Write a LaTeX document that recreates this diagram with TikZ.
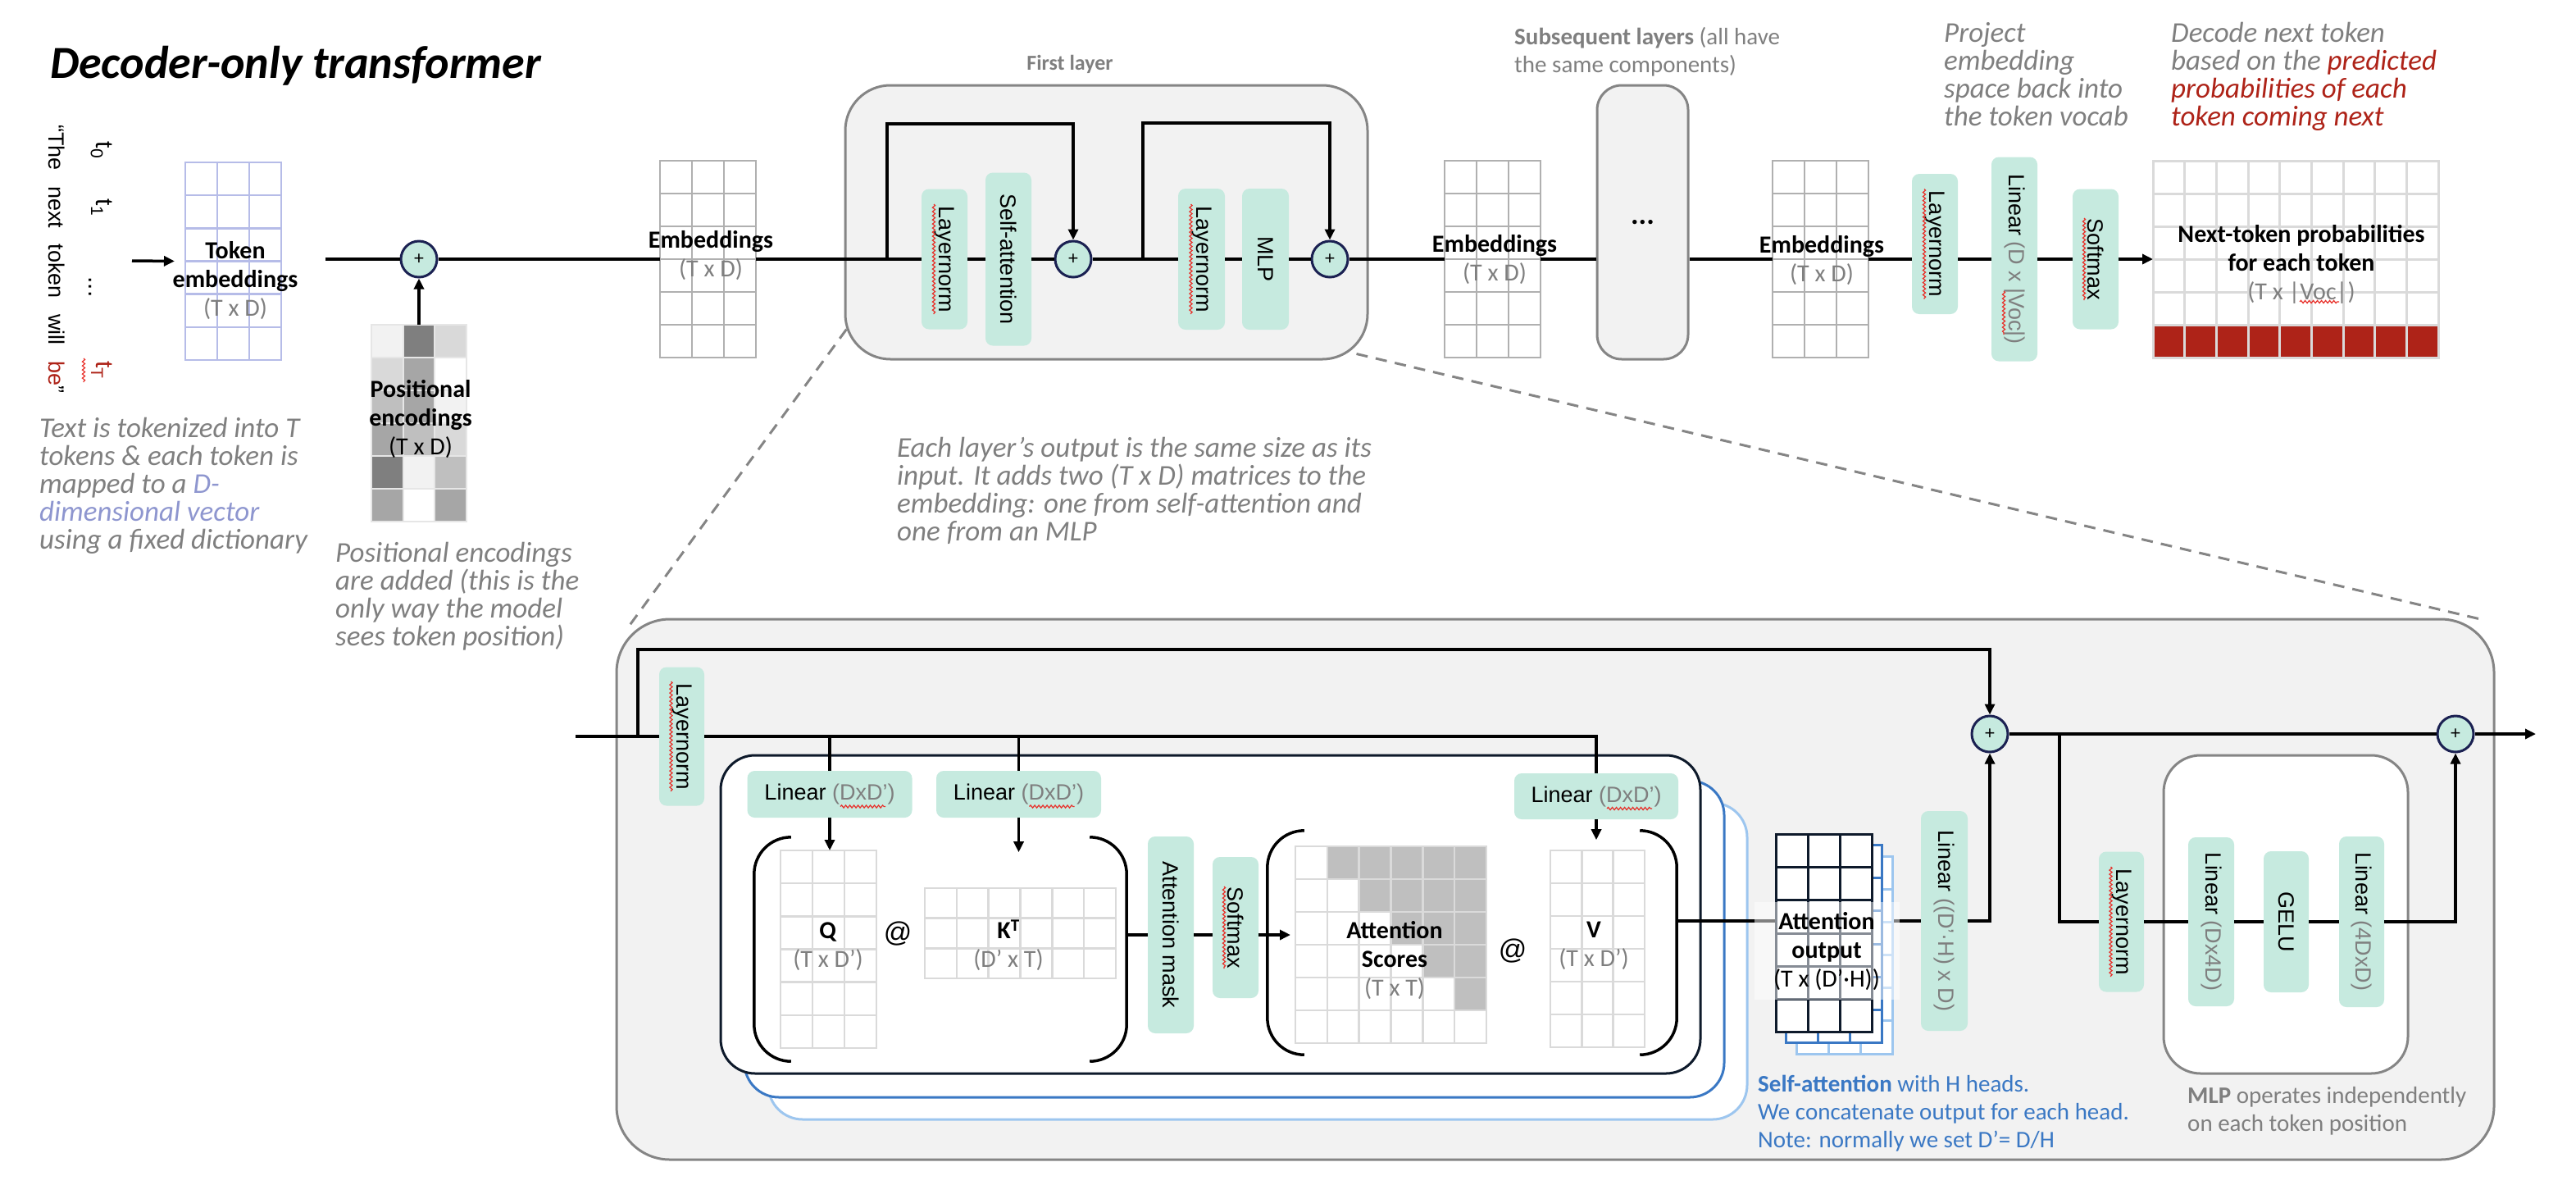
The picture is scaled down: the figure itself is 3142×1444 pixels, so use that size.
\documentclass[tikz,border=0pt]{standalone}
\usepackage{fontspec}
\usepackage{graphicx}
\setmainfont{Carlito}
\newfontfamily\arl{Liberation Sans}
\usetikzlibrary{arrows.meta,calc,decorations.pathmorphing}
\definecolor{mint}{HTML}{C6EADF}
\definecolor{navy}{HTML}{1B2152}
\definecolor{tgray}{HTML}{7F7F7F}
\definecolor{boxgray}{HTML}{858585}
\definecolor{lgbg}{HTML}{F2F2F2}
\definecolor{gridgray}{HTML}{B0B0B0}
\definecolor{lgrid}{HTML}{DADADA}
\definecolor{posline}{HTML}{E6E6E6}
\definecolor{tokblue}{HTML}{B6BCE8}
\definecolor{tred}{HTML}{AE2318}
\definecolor{dvec}{HTML}{8E96CF}
\definecolor{hblue}{HTML}{3A78C4}
\definecolor{hlblue}{HTML}{9DC6EF}
\definecolor{hnavy}{HTML}{0E1A2B}
\definecolor{sqred}{HTML}{E8302A}
\definecolor{gA}{HTML}{F2F2F2}
\definecolor{gB}{HTML}{D9D9D9}
\definecolor{gC}{HTML}{BFBFBF}
\definecolor{gD}{HTML}{A6A6A6}
\definecolor{gE}{HTML}{7F7F7F}
\tikzset{
 conn/.style={line width=3.5pt, draw=black},
 arr/.style={-{Triangle[length=13pt,width=12pt]}},
 gbox/.style={fill=mint, rounded corners=9pt, inner sep=0pt, font=\arl\fontsize{27}{32}\selectfont},
 plus/.style={circle, fill=mint, draw=navy, line width=3pt, minimum size=44pt, inner sep=0pt, font=\arl\fontsize{22}{22}\selectfont},
 gridn/.style={fill=white, inner sep=0pt, outer sep=0pt},
 lbl/.style={align=center, inner sep=0pt, font=\fontsize{30}{35}\selectfont},
 note/.style={align=left, inner sep=0pt, anchor=north west, text=tgray, font=\itshape\fontsize{35}{34}\selectfont},
 plain/.style={align=left, inner sep=0pt, anchor=north west, font=\fontsize{29}{34}\selectfont},
 layerbox/.style={fill=lgbg, draw=boxgray, line width=3pt, rounded corners=55pt},
 hbox/.style={fill=white, line width=3pt, rounded corners=42pt},
 dashline/.style={draw=boxgray, line width=3pt, dash pattern=on 14pt off 10pt},
 squig/.style={draw=sqred, line width=1.2pt, decorate, decoration={snake, amplitude=1.6pt, segment length=5pt}},
 atsign/.style={inner sep=0pt, font=\arl\fontsize{34}{34}\selectfont},
}
\newcommand\gridlines[4]{%
  \pgfmathtruncatemacro\gcm{#2-1}%
  \pgfmathtruncatemacro\grm{#3-1}%
  \foreach \i in {1,...,\gcm}{\draw[#4] ($(#1.north west)!{\i/#2}!(#1.north east)$) -- ($(#1.south west)!{\i/#2}!(#1.south east)$);}%
  \foreach \j in {1,...,\grm}{\draw[#4] ($(#1.north west)!{\j/#3}!(#1.south west)$) -- ($(#1.north east)!{\j/#3}!(#1.south east)$);}%
  \draw[#4] (#1.north west) rectangle (#1.south east);%
}
\newcommand\vsq[3]{\draw[squig] ($(#1.center)+(#2,{-#3})$) -- ($(#1.center)+(#2,#3)$);}
\begin{document}
\begin{tikzpicture}[x=1pt,y=-1pt]
\useasboundingbox (0,0) rectangle (3142,1444);

% ---------- background boxes ----------
\node[layerbox, minimum width=637, minimum height=334] (L1) at (1349.5,271) {};
\node[layerbox, rounded corners=30pt, minimum width=111, minimum height=334, font=\bfseries\fontsize{36}{36}\selectfont] (dots) at (2003.5,271) {...};
\node[layerbox, rounded corners=65pt, minimum width=2290, minimum height=659] (BL) at (1897,1084.5) {};
\draw[dashline] ($(L1.south west)+(3,-38)$) -- ($(BL.north west)+(13,15)$);
\draw[dashline] ($(L1.south east)+(-15,-8)$) -- ($(BL.north east)+(-16,2)$);
\node[hbox, draw=hlblue, minimum width=1194, minimum height=386] (hb3) at (1534,1172) {};
\node[hbox, draw=hblue, minimum width=1195, minimum height=386] (hb2) at (1505.5,1145) {};
\node[hbox, draw=hnavy, minimum width=1195, minimum height=388] (hb1) at (1476.5,1115) {};
\node[hbox, draw=boxgray, rounded corners=45pt, minimum width=298, minimum height=388] (mlpbox) at (2788,1115) {};

% ---------- top grids ----------
\node[gridn, minimum width=117, minimum height=241] (tok) at (284.5,318.5) {};
\gridlines{tok}{3}{6}{draw=tokblue, line width=2.5pt}
\node[gridn, minimum width=116, minimum height=240] (pos) at (511,516) {};
\foreach \c/\r/\col in {0/0/gA,1/0/gE,2/0/gB, 0/1/gB,1/1/gD,2/1/white, 0/2/gC,1/2/gD,2/2/gA, 0/3/gD,1/3/gC,2/3/gB, 0/4/gE,1/4/gA,2/4/gC, 0/5/gD,1/5/white,2/5/gD}
  {\fill[\col] ({453+\c*38.667},{396+\r*40}) rectangle ++(38.667,40);}
\gridlines{pos}{3}{6}{draw=posline, line width=2pt}
\node[gridn, minimum width=117, minimum height=240] (emb1) at (863.5,316) {};
\gridlines{emb1}{3}{6}{draw=gridgray, line width=2.5pt}
\node[gridn, minimum width=117, minimum height=240] (emb2) at (1820.5,316) {};
\gridlines{emb2}{3}{6}{draw=gridgray, line width=2.5pt}
\node[gridn, minimum width=117, minimum height=240] (emb3) at (2220.5,316) {};
\gridlines{emb3}{3}{6}{draw=gridgray, line width=2.5pt}
\node[gridn, minimum width=348, minimum height=240] (prob) at (2800,316) {};
\fill[tred] (2626,396) rectangle (2974,436);
\gridlines{prob}{9}{6}{draw=lgrid, line width=3pt}

% ---------- lower grids ----------
\node[gridn, minimum width=117, minimum height=241] (Qg) at (1010.5,1157.5) {};
\gridlines{Qg}{3}{6}{draw=lgrid, line width=2.5pt}
\node[gridn, minimum width=233, minimum height=110] (Kg) at (1244.5,1138) {};
\gridlines{Kg}{6}{3}{draw=lgrid, line width=2.5pt}
\node[gridn, minimum width=233, minimum height=240] (Ag) at (1696.5,1152) {};
\foreach \r in {0,...,4}{\pgfmathtruncatemacro\cs{\r+1}\foreach \c in {\cs,...,5}{\fill[gC] ({1580+\c*38.83},{1032+\r*40}) rectangle ++(38.83,40);}}
\gridlines{Ag}{6}{6}{draw=lgrid, line width=2.5pt}
\node[gridn, minimum width=115, minimum height=240] (Vg) at (1948.5,1157) {};
\gridlines{Vg}{3}{6}{draw=lgrid, line width=2.5pt}

% ---------- green boxes ----------
\node[gbox, minimum width=56, minimum height=171] (lnA) at (1152,316) {\rotatebox{-90}{Layernorm}};
\node[gbox, minimum width=56, minimum height=211] (saA) at (1230,316) {\rotatebox{-90}{Self-attention}};
\node[gbox, minimum width=57, minimum height=172] (lnB) at (1465.5,316) {\rotatebox{-90}{Layernorm}};
\node[gbox, minimum width=57, minimum height=172] (mlpA) at (1543.5,316) {\rotatebox{-90}{MLP}};
\node[gbox, minimum width=56, minimum height=171] (lnC) at (2360,297.5) {\rotatebox{-90}{Layernorm}};
\node[gbox, minimum width=56, minimum height=249] (linC) at (2457,316) {\rotatebox{-90}{Linear \textcolor{tgray}{(D x |Voc|)}}};
\node[gbox, minimum width=56, minimum height=171] (smC) at (2556,316) {\rotatebox{-90}{Softmax}};

\node[gbox, minimum width=55, minimum height=169] (lnD) at (831.5,898) {\rotatebox{-90}{Layernorm}};
\node[gbox, minimum width=201, minimum height=57] (linQ) at (1012,968.5) {Linear \textcolor{tgray}{(DxD’)}};
\node[gbox, minimum width=201, minimum height=57] (linK) at (1242.5,968.5) {Linear \textcolor{tgray}{(DxD’)}};
\node[gbox, minimum width=200, minimum height=56] (linV) at (1947,971) {Linear \textcolor{tgray}{(DxD’)}};
\node[gbox, minimum width=56, minimum height=240] (amask) at (1428,1140) {\rotatebox{-90}{Attention mask}};
\node[gbox, minimum width=56, minimum height=172] (smD) at (1507,1131) {\rotatebox{-90}{Softmax}};
\node[gbox, minimum width=57, minimum height=268] (linE) at (2371.5,1123) {\rotatebox{-90}{Linear \textcolor{tgray}{((D’·H) x D)}}};
\node[gbox, minimum width=55, minimum height=171] (lnE) at (2587.5,1124) {\rotatebox{-90}{Layernorm}};
\node[gbox, minimum width=56, minimum height=206] (lin1) at (2697,1124) {\rotatebox{-90}{Linear \textcolor{tgray}{(Dx4D)}}};
\node[gbox, minimum width=55, minimum height=172] (gelu) at (2788.5,1124) {\rotatebox{-90}{GELU}};
\node[gbox, minimum width=55, minimum height=208] (lin2) at (2880.5,1124) {\rotatebox{-90}{Linear \textcolor{tgray}{(4DxD)}}};

% ---------- plus nodes ----------
\node[plus] (plus0) at (511,316) {+};
\node[plus] (plusA) at (1309,316) {+};
\node[plus] (plusB) at (1622,316) {+};
\node[plus] (plusC) at (2427,895) {+};
\node[plus] (plusD) at (2995,895) {+};

% ---------- top connectors ----------
\coordinate (tin) at (161,318);
\draw[conn,arr] (tin) -- ($(tok.west)+(-13,0)$);
\coordinate (m0) at (397,316);
\draw[conn] (m0) -- (plus0);
\draw[conn,arr] (pos.north) -- (plus0.south);
\draw[conn] (plus0) -- (emb1);
\draw[conn] (emb1) -- (lnA);
\draw[conn] (lnA) -- (saA);
\draw[conn] (saA) -- (plusA);
\draw[conn] (plusA) -- (lnB);
\draw[conn] (lnB) -- (mlpA);
\draw[conn] (mlpA) -- (plusB);
\draw[conn] (plusB) -- (emb2);
\draw[conn] (emb2.east) -- (emb2.east -| dots.west);
\draw[conn] (dots.east |- emb3.west) -- (emb3.west);
\draw[conn] (emb3.east) -- (emb3.east -| lnC.west);
\draw[conn] (lnC.east |- linC.west) -- (linC.west);
\draw[conn] (linC) -- (smC);
\draw[conn,arr] (smC) -- (prob);
\coordinate (sk1) at (1082,316);
\draw[conn,arr] (sk1) -- ++(0,-165) -| (plusA.north);
\coordinate (sk2) at (1394,316);
\draw[conn,arr] (sk2) -- ++(0,-166) -| (plusB.north);

% ---------- lower connectors ----------
\coordinate (bin) at (702,898);
\draw[conn] (bin) -- (lnD);
\coordinate (sk3) at (778,898);
\draw[conn,arr] (sk3) -- ++(0,-106) -| (plusC.north);
\draw[conn] (lnD.east) -- (lnD.east -| linV.north) -- (linV.north);
\draw[conn] (lnD.east -| linQ.north) -- (linQ.north);
\draw[conn] (lnD.east -| linK.north) -- (linK.north);
\draw[conn,arr] (linQ.south) -- (linQ.south |- Qg.north);
\draw[conn,arr] (linK.south) -- ++(0,42);
\draw[conn,arr] (linV.south) -- ++(0,25);

% brackets
\node[inner sep=0pt, minimum width=454, minimum height=273] (grp1) at (1147,1157.5) {};
\node[inner sep=0pt, minimum width=499, minimum height=273] (grp2) at (1795.5,1149.5) {};
\foreach \g in {grp1,grp2}{
  \draw[line width=3.5pt, rounded corners=45pt] ($(\g.north west)+(45,0)$) -- (\g.north west) -- (\g.south west) -- ($(\g.south west)+(45,0)$);
  \draw[line width=3.5pt, rounded corners=45pt] ($(\g.north east)+(-45,0)$) -- (\g.north east) -- (\g.south east) -- ($(\g.south east)+(-45,0)$);
}
\draw[conn] (grp1.east |- amask.west) -- (amask.west);
\draw[conn] (amask.east) -- (amask.east -| smD.west);
\draw[conn,arr] (smD.east |- amask.east) -- ($(Ag.west |- amask.east)+(-6,0)$);
\node[atsign] (at1) at (1095,1139) {@};
\node[atsign] (at2) at (1845,1160) {@};

% attention output stack
\draw[conn] (grp2.east |- linE.west) -- (linE.west);
\node[gridn, minimum width=117, minimum height=241] (ao3) at (2249.5,1164.5) {};
\gridlines{ao3}{3}{6}{draw=hlblue, line width=3pt}
\node[gridn, minimum width=117, minimum height=241] (ao2) at (2237,1151) {};
\gridlines{ao2}{3}{6}{draw=hblue, line width=3pt}
\node[gridn, minimum width=117, minimum height=241] (ao1) at (2224.5,1138) {};
\gridlines{ao1}{3}{6}{draw=hnavy, line width=3pt}
\node[fill=white, fill opacity=0.5, inner sep=0pt, minimum width=177, minimum height=119] (band) at (2228.5,1159.5) {};

\draw[conn,arr] (linE.east) -| (plusC.south);
\draw[conn] (plusC) -- (plusD);
\coordinate (br) at (2512,895);
\draw[conn] (br) |- (lnE.west);
\draw[conn] (lnE) -- (lin1);
\draw[conn] (lin1) -- (gelu);
\draw[conn] (gelu) -- (lin2);
\draw[conn,arr] (lin2.east) -| (plusD.south);
\coordinate (bout) at (3093,895);
\draw[conn,arr] (plusD) -- (bout);

% ---------- grid labels ----------
\node[lbl] (tokl) at (287,342) {\textbf{Token}\\\textbf{embeddings}\\\textcolor{tgray}{(T x D)}};
\node[lbl] (posl) at (513,511) {\textbf{Positional}\\\textbf{encodings}\\(T x D)};
\node[lbl] (e1l) at (867,311.5) {\textbf{Embeddings}\\\textcolor{tgray}{(T x D)}};
\node[lbl] (e2l) at (1823,317) {\textbf{Embeddings}\\\textcolor{tgray}{(T x D)}};
\node[lbl] (e3l) at (2222,317.5) {\textbf{Embeddings}\\\textcolor{tgray}{(T x D)}};
\node[lbl] (probl) at (2807,322) {\textbf{Next-token probabilities}\\\textbf{for each token}\\\textcolor{tgray}{(T x |Voc|)}};
\node[lbl] (ql) at (1010,1154) {\textbf{Q}\\\textcolor{tgray}{(T x D’)}};
\node[lbl] (kl) at (1230,1153) {\textbf{K\textsuperscript{T}}\\\textcolor{tgray}{(D’ x T)}};
\node[lbl] (al) at (1701,1171) {\textbf{Attention}\\\textbf{Scores}\\\textcolor{tgray}{(T x T)}};
\node[lbl] (vl) at (1944,1153) {\textbf{V}\\\textcolor{tgray}{(T x D’)}};
\node[lbl] (aol) at (2228,1160) {\textbf{Attention}\\\textbf{output}\\(T x (D’·H))};

% ---------- texts ----------
\node[inner sep=0pt, anchor=north west, font=\bfseries\itshape\fontsize{56}{60}\selectfont] (title) at (61,56) {Decoder-only transformer};
\node[rotate=-90, anchor=base west, inner sep=0pt, font=\arl\fontsize{27}{32}\selectfont] (sent) at (59,152) {“The\hspace{12pt} next\hspace{12pt} token\hspace{12pt} will\hspace{12pt} \textcolor{tred}{be}”};
\node[rotate=-90, anchor=base, inner sep=0pt, font=\arl\fontsize{30}{32}\selectfont] (t0) at (117,183) {t\textsubscript{0}};
\node[rotate=-90, anchor=base, inner sep=0pt, font=\arl\fontsize{30}{32}\selectfont] (t1) at (117,253) {t\textsubscript{1}};
\node[rotate=-90, anchor=base, inner sep=0pt, font=\arl\fontsize{30}{32}\selectfont] (tdots) at (108,350) {...};
\node[rotate=-90, anchor=base, inner sep=0pt, font=\arl\fontsize{30}{32}\selectfont, text=tred] (tT) at (117,451) {t\textsubscript{T}};

\node[note] (n1) at (48,509) {Text is tokenized into T\\tokens \& each token is\\mapped to a \textcolor{dvec}{D-}\\\textcolor{dvec}{dimensional vector}\\using a fixed dictionary};
\node[note] (n2) at (409,661) {Positional encodings\\are added (this is the\\only way the model\\sees token position)};
\node[note] (n3) at (1094,533) {Each layer’s output is the same size as its\\input. It adds two (T x D) matrices to the\\embedding: one from self-attention and\\one from an MLP};
\node[note] (n4) at (2371,27) {Project\\embedding\\space back into\\the token vocab};
\node[note] (n5) at (2648,27) {Decode next token\\based on the \textcolor{tred}{predicted}\\\textcolor{tred}{probabilities of each}\\\textcolor{tred}{token coming next}};
\node[font=\bfseries\fontsize{26}{30}\selectfont, text=tgray, inner sep=0pt] (l1t) at (1305,78) {First layer};
\node[plain, text=tgray] (n6) at (1847,33) {\textbf{Subsequent layers} (all have\\the same components)};
\node[plain, text=hblue] (n7) at (2144,1311) {\textbf{Self-attention} with H heads.\\We concatenate output for each head.\\Note: normally we set D’= D/H};
\node[plain, text=tgray] (n8) at (2668,1325) {\textbf{MLP} operates independently\\on each token position};

% ---------- spell-check squiggles ----------
\foreach \n in {lnA,lnB,lnC,lnD,lnE}{\vsq{\n}{-13}{67}}
\foreach \n in {smC,smD}{\vsq{\n}{-14}{50}}
\draw[squig] ($(linC.center)+(-13,39)$) -- ++(0,53);
\foreach \n in {linQ,linK,linV}{\draw[squig] ($(\n.center)+(13,15)$) -- ++(55,0);}
\draw[squig] ($(probl.center)+(-2,46)$) -- ++(48,0);
\draw[squig] ($(tT.base)+(-15,-14)$) -- ++(0,29);
\end{tikzpicture}
\end{document}
